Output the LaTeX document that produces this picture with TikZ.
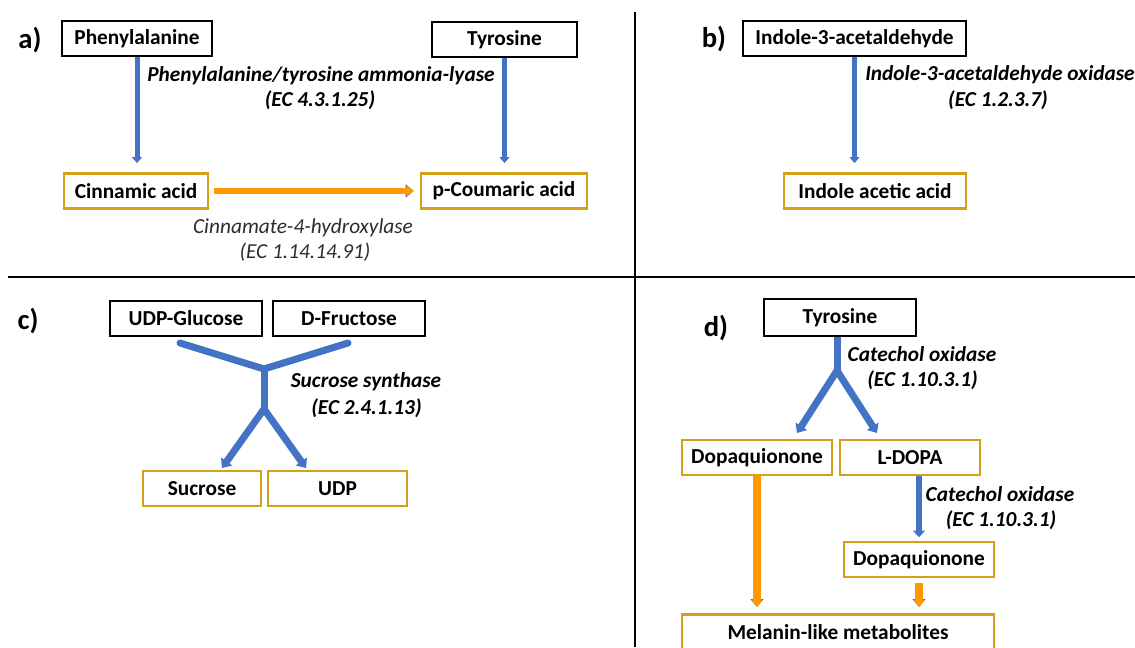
\documentclass[tikz,border=0pt]{standalone}
\usepackage{fontspec}
\setmainfont{Carlito}
\usetikzlibrary{arrows.meta,calc}

\definecolor{arrowblue}{RGB}{68,114,196}
\definecolor{boxgold}{RGB}{212,160,23}
\definecolor{arroworange}{RGB}{255,153,0}
\definecolor{edgeblue}{RGB}{95,110,150}
\definecolor{labelgrey}{RGB}{45,45,45}

\tikzset{
  substrate/.style={draw=black, line width=1.7pt, minimum height=26.5pt, inner sep=0pt,
    font=\fontsize{16}{19}\selectfont\bfseries},
  product/.style={substrate, draw=boxgold, line width=1.9pt},
  enzyme/.style={inner sep=0pt, font=\fontsize{16}{19}\selectfont\bfseries\itshape},
  plainenzyme/.style={inner sep=0pt, text=labelgrey, font=\fontsize{16}{19}\selectfont\itshape},
  panel/.style={inner sep=0pt, font=\fontsize{21.5}{24}\selectfont\bfseries},
  bluearrow/.style={draw=arrowblue, line width=3.75pt, -{Triangle[width=7.5pt,length=4.5pt]}},
  thickblue/.style={draw=arrowblue, line width=5.25pt, line cap=round},
  thickarrow/.style={thickblue, line cap=butt, -{Triangle[width=10pt,length=6pt]}},
  orangearrow/.style={draw=arroworange, line width=4pt, -{Triangle[width=8pt,length=5pt]},
    preaction={draw=edgeblue, line width=5pt, dash pattern=on 0.8pt off 0.8pt,
      -{Triangle[width=9.5pt,length=6pt]}}},
  divider/.style={draw=black, line width=1.5pt},
}

\begin{document}
\begin{tikzpicture}[x=0.75pt, y=-0.75pt]
  \clip (0,0) rectangle (1135,647);
  \fill[white] (0,0) rectangle (1135,647);

  % dividing lines
  \draw[divider] (8,277) -- (1135,277);
  \draw[divider] (635,12) -- (635,647);

  % a) phenylpropanoids
  \node[panel] (pa) at (30,40) {a)};
  \node[substrate, minimum width=112.5pt] (phe) at (137,38.5) {Phenylalanine};
  \node[substrate, minimum width=108.75pt] (tyra) at (504.5,39.5) {Tyrosine};
  \node[product, minimum width=108pt] (cinn) at (136,191) {Cinnamic acid};
  \node[product, minimum width=124.5pt] (pcou) at (504,191) {p-Coumaric acid};
  \node[enzyme] (pal) at (321,76) {Phenylalanine/tyrosine ammonia-lyase};
  \node[enzyme] (palec) at (320,100) {(EC 4.3.1.25)};
  \node[plainenzyme] (cfh) at (303,228) {Cinnamate-4-hydroxylase};
  \node[plainenzyme] (cfhec) at (305,252) {(EC 1.14.14.91)};
  \draw[bluearrow, shorten >=6.75pt] (phe.south) -- (phe.south |- cinn.north);
  \draw[bluearrow, shorten >=6.75pt] (tyra.south) -- (tyra.south |- pcou.north);
  \draw[orangearrow, shorten <=3.75pt, shorten >=4.5pt] (cinn.east) -- (pcou.west);

  % b) auxin
  \node[panel] (pb) at (714,39) {b)};
  \node[substrate, minimum width=167pt] (iald) at (854.5,38.5) {Indole-3-acetaldehyde};
  \node[product, minimum width=136.5pt] (iaa) at (875,191) {Indole acetic acid};
  \node[enzyme, anchor=west] (iao) at (865,75) {Indole-3-acetaldehyde oxidase};
  \node[enzyme] (iaoec) at (998,100) {(EC 1.2.3.7)};
  \draw[bluearrow, shorten >=6.75pt] (iald.south) -- (iald.south |- iaa.north);

  % c) sucrose
  \node[panel] (pc) at (28,321) {c)};
  \node[substrate, minimum width=114pt] (udpglc) at (186,318.5) {UDP-Glucose};
  \node[substrate, minimum width=114pt] (dfru) at (349,318.5) {D-Fructose};
  \node[product, minimum width=88.5pt] (suc) at (202,488.5) {Sucrose};
  \node[product, minimum width=104pt] (udp) at (337.5,488.5) {UDP};
  \node[enzyme] (sus) at (366,382) {Sucrose synthase};
  \node[enzyme] (susec) at (366.5,408) {(EC 2.4.1.13)};
  \coordinate (cleft) at (180,343);
  \coordinate (cright) at (348,343);
  \coordinate (cjoin) at (264,369);
  \coordinate (csplit) at (264,409);
  \coordinate (csuc) at (222,468);
  \coordinate (cudp) at (306,468);
  \draw[thickblue] (cleft) -- (cjoin) -- (cright);
  \draw[thickblue] (cjoin) -- (csplit);
  \draw[thickarrow] (csplit) -- (csuc);
  \draw[thickarrow] (csplit) -- (cudp);

  % d) melanin
  \node[panel] (pd) at (716,328) {d)};
  \node[substrate, minimum width=114pt, minimum height=27.5pt] (tyrd) at (840,317.5) {Tyrosine};
  \node[product, minimum width=112.5pt] (dopqa) at (757,457.5) {Dopaquionone};
  \node[product, minimum width=105pt] (ldopa) at (910,457.5) {L-DOPA};
  \node[product, minimum width=112.5pt] (dopqb) at (919,559.5) {Dopaquionone};
  \node[product, minimum width=234pt] (mel) at (838,632) {Melanin-like metabolites};
  \node[enzyme] (cox) at (922,354) {Catechol oxidase};
  \node[enzyme] (coxec) at (922.5,380) {(EC 1.10.3.1)};
  \node[enzyme] (coxb) at (1000,494) {Catechol oxidase};
  \node[enzyme] (coxbec) at (1001,520) {(EC 1.10.3.1)};
  \coordinate (dsplit) at (837,372);
  \coordinate (ddopq) at (797,433);
  \coordinate (dldopa) at (877,433);
  \draw[thickblue, line cap=butt] (tyrd.south -| dsplit) -- (dsplit);
  \draw[thickarrow] ([yshift=1pt]dsplit) -- (ddopq);
  \draw[thickarrow] ([yshift=1pt]dsplit) -- (dldopa);
  \draw[draw=arrowblue, line width=4.5pt, -{Triangle[width=9pt,length=5pt]}, shorten >=2.5pt]
    (ldopa.south -| dopqb.north) -- (dopqb.north);
  \draw[orangearrow, line width=5.5pt, shorten >=4.5pt] (dopqa.south) -- (dopqa.south |- mel.north);
  \draw[orangearrow, line width=5.5pt, shorten <=3.75pt, shorten >=4.5pt] (dopqb.south) -- (dopqb.south |- mel.north);
\end{tikzpicture}
\end{document}
